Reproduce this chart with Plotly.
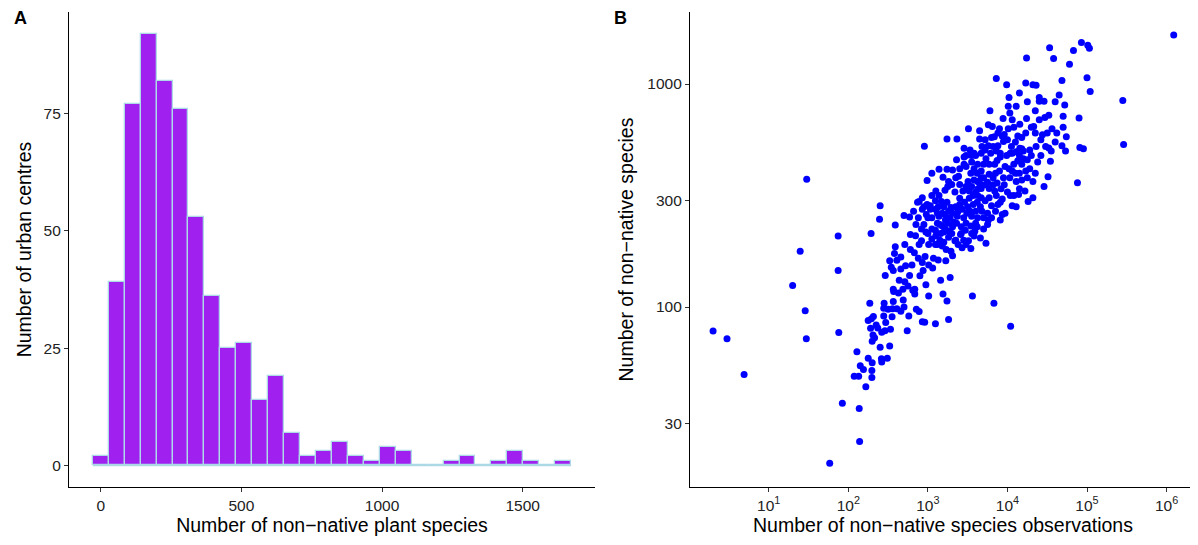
import plotly.graph_objects as go

# ---------------- Panel A: histogram ----------------
bin_width = 56.68
hist_counts = [2, 39, 77, 92, 82, 76, 53, 36, 25, 26, 14, 19, 7, 2, 3, 5, 2, 1, 4, 3,
               0, 0, 1, 2, 0, 1, 3, 1, 0, 1]
bin_centers = [i * bin_width for i in range(len(hist_counts))]
hist_xticks = [0, 500, 1000, 1500]
hist_yticks = [0, 25, 50, 75]

# ---------------- Panel B: scatter (log10 values) ----------------
pts = [
    (6.09, 3.22),
    (0.30, 1.892), (0.475, 1.858), (0.69, 1.698),
    (1.30, 2.097), (1.395, 2.25), (1.477, 2.573), (1.458, 1.983), (1.472, 1.858),
    (1.872, 2.318), (1.872, 2.164), (1.88, 1.886), (1.766, 1.30), (1.925, 1.568), (2.137, 1.545), (2.142, 1.397),
    (2.286, 2.33), (2.40, 2.454), (2.392, 2.394),
    (2.956, 2.721), (2.99, 2.567), (3.24, 2.754), (3.365, 2.754), (3.51, 2.80),
    (3.86, 3.025), (3.99, 2.997), (3.78, 2.88), (4.24, 3.117), (4.53, 3.163), (4.58, 3.114), (4.93, 3.186),
    (5.01, 3.174), (5.03, 3.161), (4.83, 3.15), (4.78, 3.089), (4.23, 3.005), (4.32, 2.997), (4.36, 2.995),
    (5.0, 3.028), (5.04, 2.966), (4.685, 3.016), (4.65, 2.951), (4.72, 2.906), (4.40, 2.923), (4.46, 2.923),
    (5.45, 2.926), (5.46, 2.729), (4.90, 2.848), (4.91, 2.715), (4.955, 2.71), (4.88, 2.557), (4.74, 2.764),
    (4.70, 2.856), (4.70, 2.806), (4.685, 2.723), (4.73, 2.70), (4.56, 2.80), (4.54, 2.654), (4.52, 2.713),
    (4.42, 2.75), (4.44, 2.773), (4.36, 2.72), (4.35, 2.78), (4.33, 2.81), (4.51, 2.584), (4.46, 2.54),
    (4.26, 2.473), (4.32, 2.49),
    (4.04, 1.914), (3.83, 2.017), (3.56, 2.05), (3.73, 2.286), (3.26, 1.944), (3.24, 2.027), (3.19, 2.058),
    (3.095, 1.925), (3.01, 2.05), (2.93, 1.934), (2.96, 1.932), (2.74, 1.894), (3.28, 2.133), (3.16, 2.12),
    (2.108, 1.80), (2.074, 1.69), (2.13, 1.69), (2.15, 1.737), (2.19, 1.72), (2.22, 1.643), (2.296, 1.715),
    (2.296, 1.684), (2.25, 1.77), (2.30, 1.75), (2.416, 1.768), (2.49, 1.77), (2.42, 1.754), (2.52, 1.825),
    (2.40, 1.82), (2.30, 1.847), (2.33, 1.862), (2.31, 1.875), (2.37, 1.906), (2.42, 1.887), (2.46, 1.894),
    (2.53, 1.90), (2.25, 1.94), (2.29, 1.948), (2.315, 1.958), (2.27, 2.017), (2.28, 1.905), (2.35, 1.92),
    (2.47, 1.931), (2.445, 1.96), (2.50, 1.99), (2.445, 1.995), (2.55, 1.956), (2.556, 1.992), (2.61, 1.992),
    (2.66, 1.981), (2.70, 2.0), (2.76, 1.96), (2.855, 1.99), (2.89, 1.98), (2.45, 2.017), (2.565, 2.025),
    (2.69, 2.031), (2.57, 2.07), (2.565, 2.08), (2.63, 2.063), (2.686, 2.08), (2.75, 2.094), (2.81, 2.075),
    (2.835, 2.058), (2.464, 2.141), (2.64, 2.12), (2.71, 2.113), (2.77, 2.141), (2.835, 2.08), (2.54, 2.178),
    (2.565, 2.164), (2.52, 2.207), (2.61, 2.21), (2.66, 2.17), (2.72, 2.185), (2.80, 2.188), (2.58, 2.24),
    (2.66, 2.224), (2.59, 2.27), (2.71, 2.28), (2.78, 2.258), (2.83, 2.243), (2.88, 2.219), (2.93, 2.20),
    (2.94, 2.164), (2.90, 2.14), (2.975, 2.10), (2.965, 2.227), (3.01, 2.188), (3.06, 2.175), (3.07, 2.219),
    (3.13, 2.211),
    (2.78, 2.325), (2.845, 2.32), (2.92, 2.297), (2.92, 2.35), (2.975, 2.336), (2.89, 2.28), (3.01, 2.28),
    (3.05, 2.305), (3.095, 2.28), (3.18, 2.274), (3.23, 2.258), (3.29, 2.25), (3.31, 2.23), (3.225, 2.208),
    (3.095, 2.344), (3.16, 2.33), (3.20, 2.336), (3.26, 2.313), (3.34, 2.297), (3.38, 2.28), (3.43, 2.266),
    (3.48, 2.28), (3.54, 2.263), (3.51, 2.297), (3.41, 2.325), (3.47, 2.344), (3.58, 2.318), (3.59, 2.34),
    (3.05, 2.40), (3.12, 2.376), (3.18, 2.363), (3.25, 2.376), (3.31, 2.36), (3.36, 2.376), (3.42, 2.36),
    (3.48, 2.376), (3.54, 2.363), (3.37, 2.407), (3.31, 2.42), (3.215, 2.415), (3.14, 2.407), (3.095, 2.438),
    (3.03, 2.438), (2.98, 2.415), (2.93, 2.438), (2.93, 2.49), (2.89, 2.473), (3.03, 2.454), (3.095, 2.477),
    (3.17, 2.473), (3.24, 2.47), (3.29, 2.446), (3.43, 2.438), (3.49, 2.42), (3.55, 2.407), (3.60, 2.43),
    (3.46, 2.47), (3.52, 2.488), (3.40, 2.488), (3.34, 2.516), (3.215, 2.524), (3.14, 2.50), (3.05, 2.60),
    (3.14, 2.618), (3.24, 2.618), (3.31, 2.615), (3.19, 2.582), (3.26, 2.563), (3.25, 2.54), (3.385, 2.587),
    (3.455, 2.64), (3.455, 2.673), (3.48, 2.63), (3.54, 2.60), (3.55, 2.65), (3.55, 2.68), (3.625, 2.64),
    (3.505, 2.563), (3.55, 2.54), (3.60, 2.516), (3.625, 2.563), (3.67, 2.58), (3.67, 2.61), (3.70, 2.64),
    (3.73, 2.665), (3.77, 2.64), (3.67, 2.69), (3.72, 2.704), (3.76, 2.723), (3.82, 2.72), (3.88, 2.723),
    (3.86, 2.70), (3.91, 2.673), (3.87, 2.657), (3.77, 2.595), (3.82, 2.58), (3.65, 2.556), (3.67, 2.532),
    (3.72, 2.548), (3.77, 2.532), (3.82, 2.548), (3.87, 2.556), (3.625, 2.50), (3.67, 2.49), (3.72, 2.477),
    (3.77, 2.49), (3.80, 2.454), (3.75, 2.42), (3.70, 2.40), (3.76, 2.39), (3.625, 2.40), (3.60, 2.376),
    (3.91, 2.39), (3.935, 2.415), (3.97, 2.42), (3.935, 2.485), (3.91, 2.47), (4.0, 2.516), (3.96, 2.548),
    (4.03, 2.58), (4.06, 2.61), (4.08, 2.64), (4.06, 2.69), (4.11, 2.696), (4.155, 2.712), (4.035, 2.69),
    (3.99, 2.68), (4.13, 2.656), (4.18, 2.64), (4.20, 2.665), (4.23, 2.61), (4.15, 2.60), (4.11, 2.563),
    (4.035, 2.50), (4.08, 2.50), (4.14, 2.505), (4.06, 2.454), (4.11, 2.45), (4.32, 2.563), (4.35, 2.60),
    (4.30, 2.68), (4.18, 2.71), (4.28, 2.704), (4.13, 2.767), (4.18, 2.76), (4.23, 2.78), (4.30, 2.806),
    (4.08, 2.806), (4.01, 2.80), (4.155, 2.82), (4.06, 2.84), (3.96, 2.774), (3.935, 2.767), (3.945, 2.845),
    (4.01, 2.90), (4.02, 2.94), (4.11, 2.90), (4.24, 2.845), (4.03, 2.87), (3.81, 2.81), (3.76, 2.817),
    (3.65, 2.79), (3.65, 2.754), (3.835, 2.764), (3.95, 2.742), (3.79, 2.69), (3.91, 2.69), (3.84, 2.64),
    (3.53, 2.704), (3.455, 2.712), (3.58, 2.69), (3.48, 2.68), (2.99, 2.46), (2.95, 2.45), (3.12, 2.42),
    (2.70, 2.41), (2.77, 2.404), (2.59, 2.368), (2.87, 2.47), (2.82, 2.43),
    (3.05, 2.35), (3.10, 2.32), (3.15, 2.30), (3.20, 2.29), (3.22, 2.35), (3.27, 2.34), (3.30, 2.33),
    (3.33, 2.38), (3.28, 2.40), (3.22, 2.39), (3.18, 2.42), (3.13, 2.45), (3.20, 2.45), (3.26, 2.43),
    (3.35, 2.45), (3.38, 2.43), (3.40, 2.46), (3.45, 2.40), (3.50, 2.45), (3.53, 2.43), (3.57, 2.46),
    (3.44, 2.52), (3.48, 2.54), (3.52, 2.52), (3.57, 2.50), (3.62, 2.47), (3.66, 2.45), (3.68, 2.43),
    (3.63, 2.53), (3.58, 2.57), (3.40, 2.55), (3.30, 2.55), (3.35, 2.58), (3.10, 2.52), (3.05, 2.50),
    (3.00, 2.40), (3.00, 2.33), (2.95, 2.37), (2.85, 2.37), (2.88, 2.40), (3.15, 2.37), (3.12, 2.28),
    (3.35, 2.30), (3.42, 2.33), (3.45, 2.30), (3.55, 2.33), (3.62, 2.36), (3.66, 2.31), (3.70, 2.35),
    (3.75, 2.37), (3.80, 2.40), (3.85, 2.43), (3.88, 2.46), (3.86, 2.50), (3.84, 2.52), (3.92, 2.53),
    (3.95, 2.58), (3.90, 2.61), (3.85, 2.60), (3.97, 2.63), (3.70, 2.58), (3.75, 2.56), (3.62, 2.60),
    (3.58, 2.62), (3.40, 2.62), (3.36, 2.66), (3.60, 2.68), (3.68, 2.72), (3.72, 2.75), (3.80, 2.76),
    (3.88, 2.78), (3.90, 2.80), (4.00, 2.75), (4.05, 2.72), (4.10, 2.74), (4.15, 2.68), (4.20, 2.70),
    (4.25, 2.66), (4.28, 2.62), (4.25, 2.58), (4.18, 2.57), (4.15, 2.53), (4.22, 2.52), (4.10, 2.60),
    (4.02, 2.62), (4.38, 2.65), (4.42, 2.68), (4.48, 2.72), (4.40, 2.84), (4.47, 2.85), (4.50, 2.78),
    (4.62, 2.78), (4.60, 2.74), (4.55, 2.70), (4.25, 2.92), (4.35, 2.88), (4.52, 2.86), (4.60, 2.92),
    (4.15, 2.96), (4.40, 2.94),
]
obs_log10 = [p[0] for p in pts]
species_log10 = [p[1] for p in pts]
observations = [10 ** v for v in obs_log10]
species = [10 ** v for v in species_log10]
scatter_xticks = [10, 100, 1000, 10000, 100000, 1000000]
scatter_xticktext = ["10<sup>1</sup>", "10<sup>2</sup>", "10<sup>3</sup>", "10<sup>4</sup>",
                     "10<sup>5</sup>", "10<sup>6</sup>"]
scatter_yticks = [30, 100, 300, 1000]

# ---------------- Figure ----------------
# the page body adds an 8px offset, so the figure is 8px smaller and shifted
OFF = 8
W, H = 1198 - OFF, 545 - OFF
FONT = "Liberation Sans, Arial, sans-serif"
# plot area in (page) pixels
L, R, T, B = 69 - OFF, 1196 - OFF, 12 - OFF, 487 - OFF
PW, PH = R - L, B - T

fig = go.Figure()

# zero-count baseline (ggplot draws empty bins as a flat outline)
fig.add_trace(go.Scatter(
    x=[bin_centers[0] - bin_width / 2, bin_centers[-1] + bin_width / 2], y=[0, 0],
    mode="lines", line=dict(color="#add8e6", width=1.5), hoverinfo="skip",
    showlegend=False, xaxis="x", yaxis="y"))

fig.add_trace(go.Bar(
    x=bin_centers, y=hist_counts, width=bin_width,
    marker=dict(color="#a020f0", line=dict(color="#add8e6", width=1.3)),
    showlegend=False, xaxis="x", yaxis="y"))

fig.add_trace(go.Scatter(
    x=observations, y=species, mode="markers",
    marker=dict(color="#0000ff", size=7, line=dict(width=0)),
    showlegend=False, xaxis="x2", yaxis="y2"))

axis_common = dict(
    showline=True, linecolor="black", linewidth=1.1, mirror=False,
    ticks="outside", ticklen=4, tickwidth=1, tickcolor="#333333",
    showgrid=False, zeroline=False, automargin=False,
    tickfont=dict(family=FONT, size=15.5, color="#222222"),
)
TITLE_FONT = dict(family=FONT, size=19.5, color="black")

fig.update_layout(
    width=W, height=H,
    margin=dict(l=L, r=W - R, t=T, b=H - B, pad=0),
    paper_bgcolor="white", plot_bgcolor="white",
    bargap=0,
    font=dict(family=FONT),
    xaxis=dict(domain=[0, (595 - OFF - L) / PW], range=[-113, 1757], tickvals=hist_xticks,
               title=dict(text="Number of non−native plant species", font=TITLE_FONT, standoff=3),
               anchor="y", **axis_common),
    yaxis=dict(domain=[0, 1], range=[-4.6, 96.6], tickvals=hist_yticks,
               title=dict(text="Number of urban centres", font=TITLE_FONT, standoff=6),
               anchor="x", **axis_common),
    xaxis2=dict(domain=[(690 - OFF - L) / PW, 1], type="log", range=[0.01, 6.37],
                tickvals=scatter_xticks, ticktext=scatter_xticktext,
                title=dict(text="Number of non−native species observations", font=TITLE_FONT, standoff=0),
                anchor="y2", **axis_common),
    yaxis2=dict(domain=[0, 1], type="log", range=[1.193, 3.323],
                tickvals=scatter_yticks, ticktext=[str(v) for v in scatter_yticks],
                title=dict(text="Number of non−native species", font=TITLE_FONT, standoff=8),
                anchor="x2", **axis_common),
    annotations=[
        dict(text="<b>A</b>", x=(12 - OFF - L) / PW, y=1 - (18 - 12) / PH, xref="paper", yref="paper",
             xanchor="left", yanchor="middle", showarrow=False, font=dict(family=FONT, size=18, color="black")),
        dict(text="<b>B</b>", x=(612 - OFF - L) / PW, y=1 - (18 - 12) / PH, xref="paper", yref="paper",
             xanchor="left", yanchor="middle", showarrow=False, font=dict(family=FONT, size=18, color="black")),
    ],
)

fig.write_html("out.html")
